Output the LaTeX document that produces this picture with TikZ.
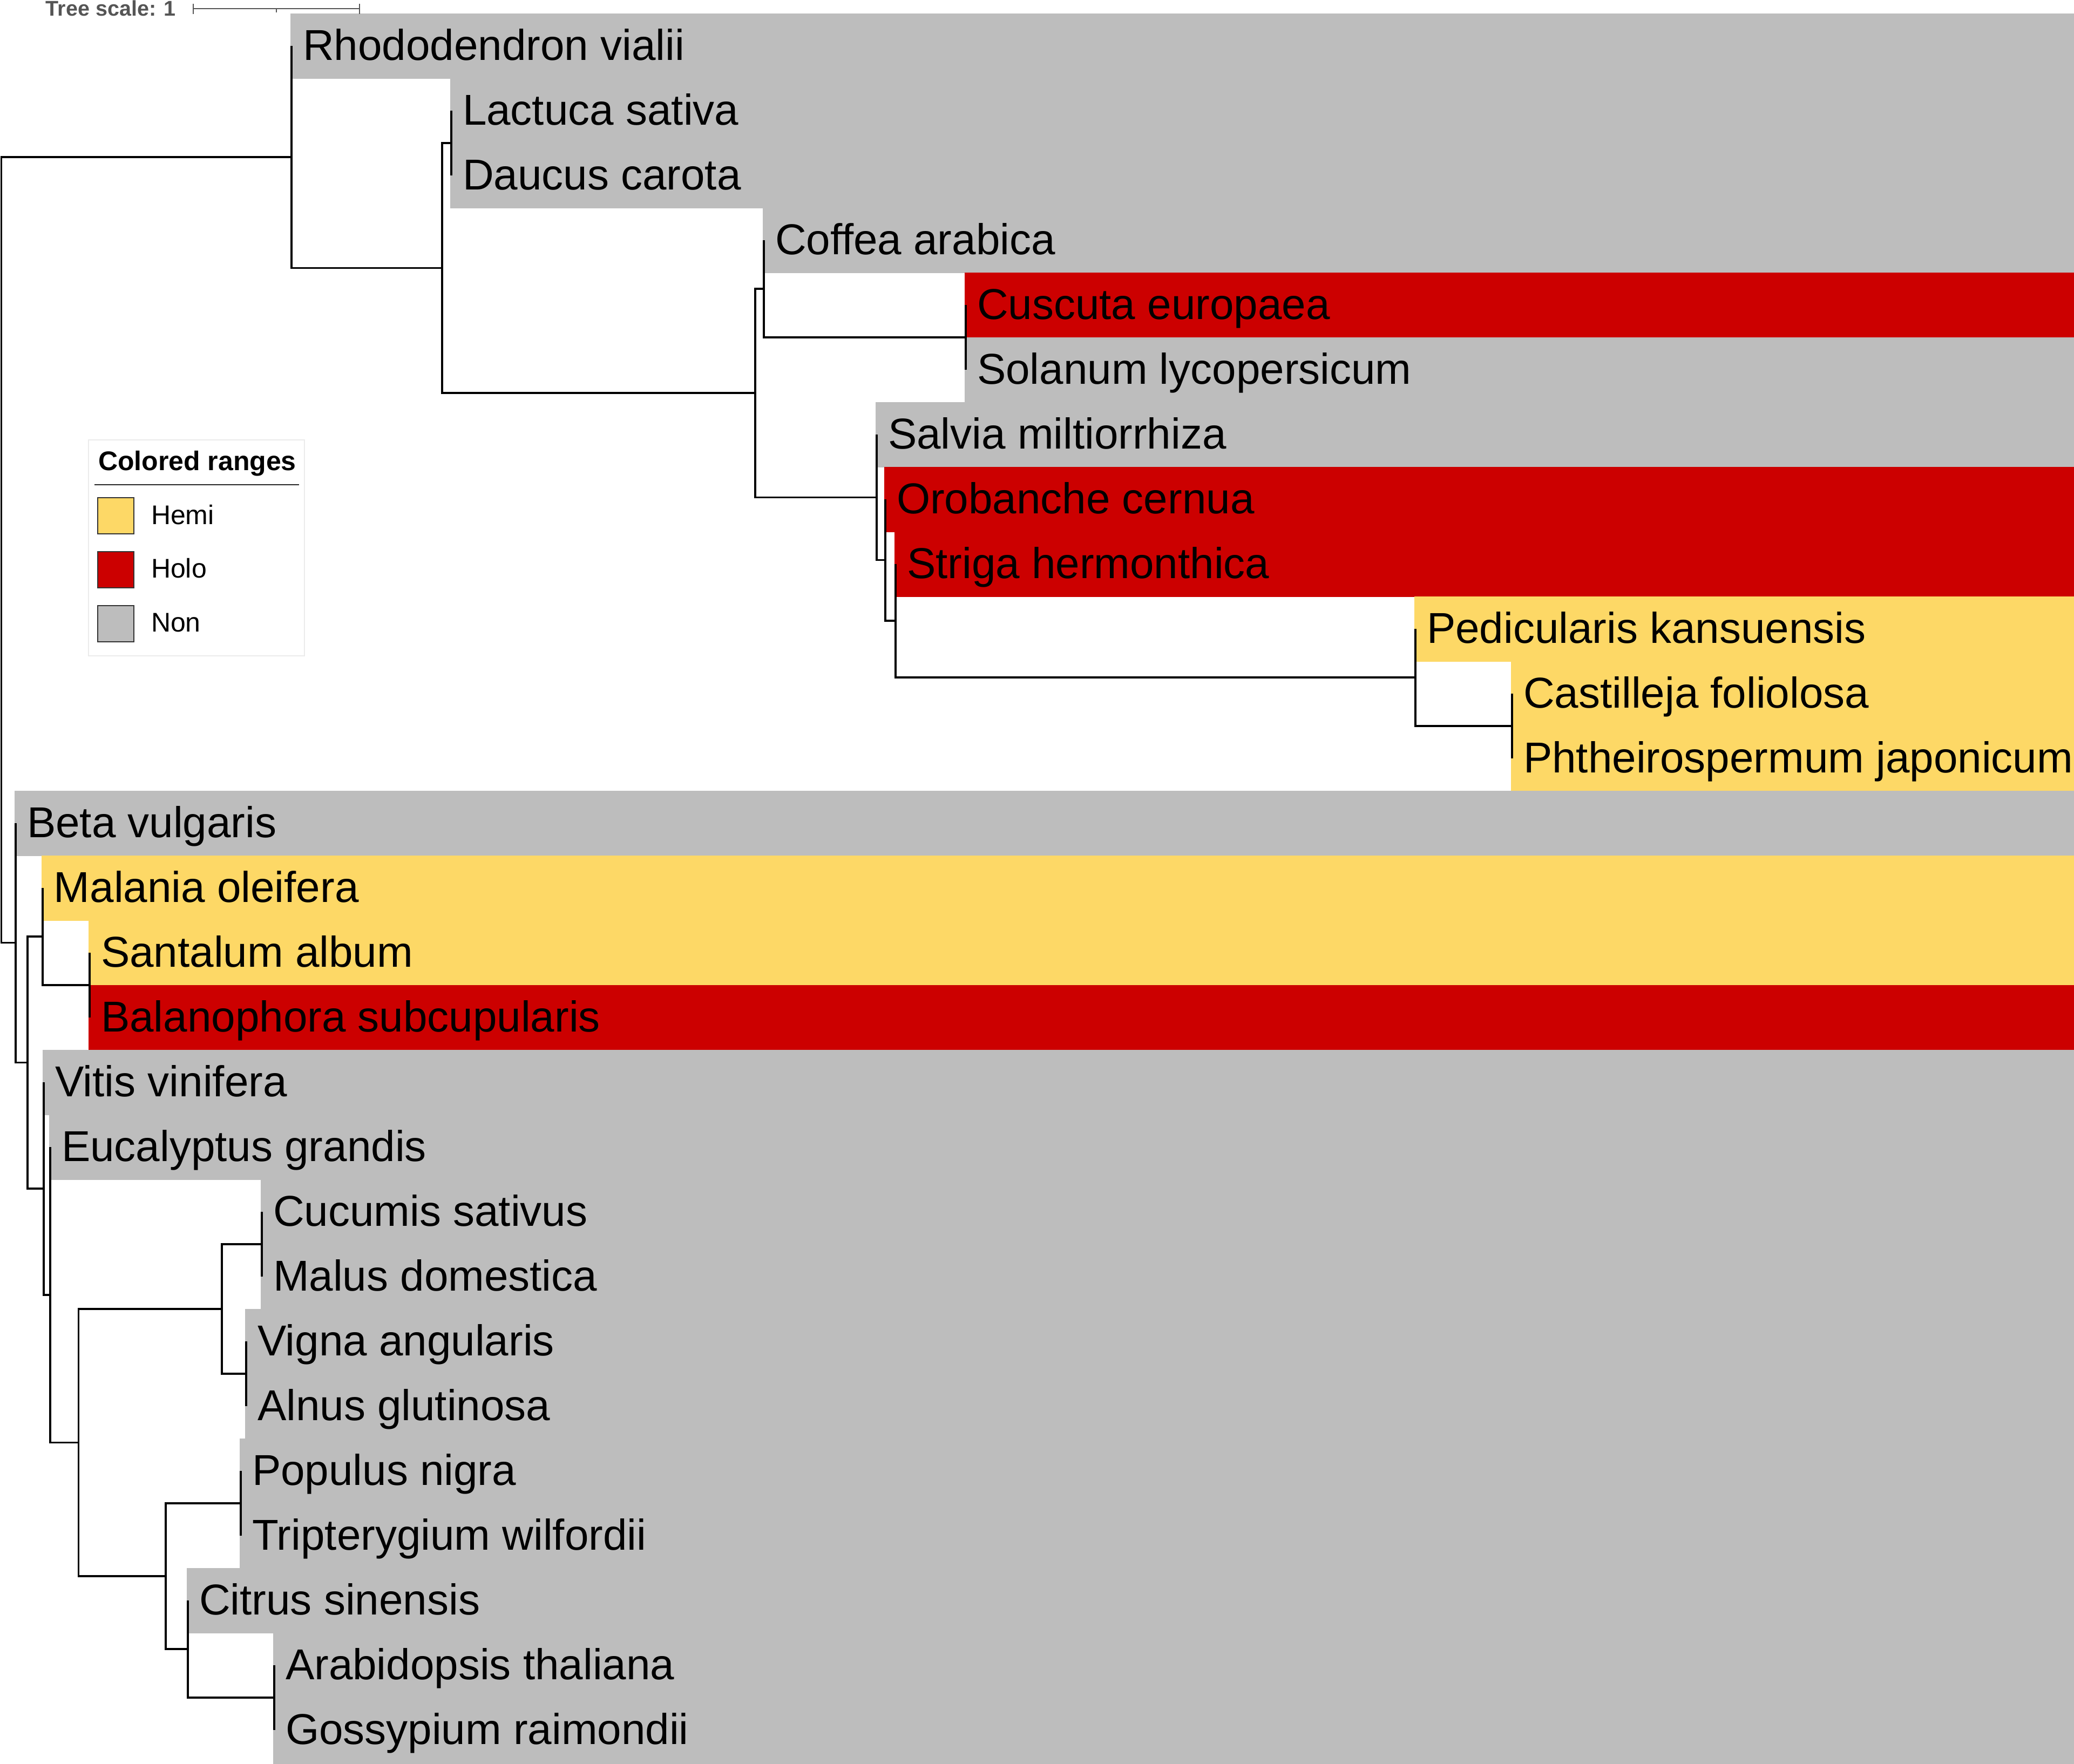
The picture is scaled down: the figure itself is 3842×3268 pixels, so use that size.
\documentclass[tikz,border=0pt]{standalone}
\usepackage{fontspec}
\setmainfont{Liberation Sans}
\definecolor{hemi}{HTML}{FDD866}
\definecolor{holo}{HTML}{CC0000}
\definecolor{non}{HTML}{BDBDBD}
\definecolor{scalegray}{HTML}{555555}
\tikzset{
  branch/.style={line width=0.7pt, black},
  leaflabel/.style={anchor=base west, inner sep=0pt, xshift=0.4pt, font=\fontsize{16}{19}\selectfont},
  legtext/.style={anchor=base west, inner sep=0pt, font=\fontsize{10}{12}\selectfont},
  swatch/.style={draw=black!80, line width=0.3pt},
  scalebar/.style={draw=scalegray, line width=0.5pt}
}
\begin{document}
\begin{tikzpicture}[x=0.2pt, y=-0.2pt]
\useasboundingbox (0,0) rectangle (3842,3268);
% ---------- coloured ranges ----------
\fill[non]  (538,25)   rectangle (3842,145.5);
\fill[non]  (834,145)  rectangle (3842,265.5);
\fill[non]  (834,265)  rectangle (3842,385.5);
\fill[non]  (1413,385) rectangle (3842,505.5);
\fill[holo] (1787,505) rectangle (3842,625.5);
\fill[non]  (1787,625) rectangle (3842,745.5);
\fill[non]  (1622,745) rectangle (3842,865.5);
\fill[holo] (1638,865) rectangle (3842,985.5);
\fill[holo] (1657,985) rectangle (3842,1105.5);
\fill[hemi] (2620,1105) rectangle (3842,1225.5);
\fill[hemi] (2799,1225) rectangle (3842,1345.5);
\fill[hemi] (2799,1345) rectangle (3842,1465.5);
\fill[non]  (27,1465)  rectangle (3842,1585.5);
\fill[hemi] (77,1585)  rectangle (3842,1705.5);
\fill[hemi] (164,1705) rectangle (3842,1825.5);
\fill[holo] (164,1825) rectangle (3842,1945.5);
\fill[non]  (79,1945)  rectangle (3842,2065.5);
\fill[non]  (91,2065)  rectangle (3842,2185.5);
\fill[non]  (483,2185) rectangle (3842,2305.5);
\fill[non]  (483,2305) rectangle (3842,2425.5);
\fill[non]  (454,2425) rectangle (3842,2545.5);
\fill[non]  (454,2545) rectangle (3842,2665.5);
\fill[non]  (444,2665) rectangle (3842,2785.5);
\fill[non]  (444,2785) rectangle (3842,2905.5);
\fill[non]  (346,2905) rectangle (3842,3025.5);
\fill[non]  (506,3025) rectangle (3842,3145.5);
\fill[non]  (506,3145) rectangle (3842,3268);
% ---------- internal nodes ----------
\coordinate (R0) at (2.5,1018.8);
\coordinate (A)  at (540,290.8);
\coordinate (B)  at (819,496.6);
\coordinate (C)  at (836,265);
\coordinate (D)  at (1399,728.1);
\coordinate (E)  at (1415,535);
\coordinate (F)  at (1789,625);
\coordinate (G)  at (1624,921.25);
\coordinate (H)  at (1640,1037.5);
\coordinate (I)  at (1659,1150);
\coordinate (J)  at (2622,1255);
\coordinate (K)  at (2801,1345);
\coordinate (L)  at (29,1746.7);
\coordinate (M)  at (51,1968.4);
\coordinate (N)  at (79,1735);
\coordinate (P)  at (166,1825);
\coordinate (O)  at (81,2201.9);
\coordinate (Q)  at (93,2398.75);
\coordinate (S)  at (145.5,2672.5);
\coordinate (T)  at (411,2425);
\coordinate (V)  at (485,2305);
\coordinate (W)  at (456,2545);
\coordinate (U)  at (307,2920);
\coordinate (X)  at (446,2785);
\coordinate (Y)  at (348,3055);
\coordinate (Z)  at (508,3145);
% ---------- leaves ----------
\coordinate (lRho) at (540,85);
\coordinate (lLac) at (836,205);
\coordinate (lDau) at (836,325);
\coordinate (lCof) at (1415,445);
\coordinate (lCus) at (1789,565);
\coordinate (lSol) at (1789,685);
\coordinate (lSal) at (1624,805);
\coordinate (lOro) at (1640,925);
\coordinate (lStr) at (1659,1045);
\coordinate (lPed) at (2622,1165);
\coordinate (lCas) at (2801,1285);
\coordinate (lPht) at (2801,1405);
\coordinate (lBet) at (29,1525);
\coordinate (lMal) at (79,1645);
\coordinate (lSan) at (166,1765);
\coordinate (lBal) at (166,1885);
\coordinate (lVit) at (81,2005);
\coordinate (lEuc) at (93,2125);
\coordinate (lCuc) at (485,2245);
\coordinate (lMus) at (485,2365);
\coordinate (lVig) at (456,2485);
\coordinate (lAln) at (456,2605);
\coordinate (lPop) at (446,2725);
\coordinate (lTri) at (446,2845);
\coordinate (lCit) at (348,2965);
\coordinate (lAra) at (508,3085);
\coordinate (lGos) at (508,3205);
% ---------- branches ----------
\draw[branch] (A) -| (R0) |- (L);
\draw[branch] (lRho) -| (A) |- (B);
\draw[branch] (C) -| (B) |- (D);
\draw[branch] (lLac) -| (C) |- (lDau);
\draw[branch] (E) -| (D) |- (G);
\draw[branch] (lCof) -| (E) |- (F);
\draw[branch] (lCus) -| (F) |- (lSol);
\draw[branch] (lSal) -| (G) |- (H);
\draw[branch] (lOro) -| (H) |- (I);
\draw[branch] (lStr) -| (I) |- (J);
\draw[branch] (lPed) -| (J) |- (K);
\draw[branch] (lCas) -| (K) |- (lPht);
\draw[branch] (lBet) -| (L) |- (M);
\draw[branch] (N) -| (M) |- (O);
\draw[branch] (lMal) -| (N) |- (P);
\draw[branch] (lSan) -| (P) |- (lBal);
\draw[branch] (lVit) -| (O) |- (Q);
\draw[branch] (lEuc) -| (Q) |- (S);
\draw[branch] (T) -| (S) |- (U);
\draw[branch] (V) -| (T) |- (W);
\draw[branch] (lCuc) -| (V) |- (lMus);
\draw[branch] (lVig) -| (W) |- (lAln);
\draw[branch] (X) -| (U) |- (Y);
\draw[branch] (lPop) -| (X) |- (lTri);
\draw[branch] (lCit) -| (Y) |- (Z);
\draw[branch] (lAra) -| (Z) |- (lGos);
% ---------- labels ----------
\node[leaflabel] (tRho) at (558,111)  {Rhododendron vialii};
\node[leaflabel] (tLac) at (854,231)  {Lactuca sativa};
\node[leaflabel] (tDau) at (854,351)  {Daucus carota};
\node[leaflabel] (tCof) at (1433,471) {Coffea arabica};
\node[leaflabel] (tCus) at (1807,591) {Cuscuta europaea};
\node[leaflabel] (tSol) at (1807,711) {Solanum lycopersicum};
\node[leaflabel] (tSal) at (1642,831) {Salvia miltiorrhiza};
\node[leaflabel] (tOro) at (1658,951) {Orobanche cernua};
\node[leaflabel] (tStr) at (1677,1071) {Striga hermonthica};
\node[leaflabel] (tPed) at (2640,1191) {Pedicularis kansuensis};
\node[leaflabel] (tCas) at (2819,1311) {Castilleja foliolosa};
\node[leaflabel] (tPht) at (2819,1431) {Phtheirospermum japonicum};
\node[leaflabel] (tBet) at (47,1551)  {Beta vulgaris};
\node[leaflabel] (tMal) at (97,1671)  {Malania oleifera};
\node[leaflabel] (tSan) at (184,1791) {Santalum album};
\node[leaflabel] (tBal) at (184,1911) {Balanophora subcupularis};
\node[leaflabel] (tVit) at (99,2031)  {Vitis vinifera};
\node[leaflabel] (tEuc) at (111,2151) {Eucalyptus grandis};
\node[leaflabel] (tCuc) at (503,2271) {Cucumis sativus};
\node[leaflabel] (tMus) at (503,2391) {Malus domestica};
\node[leaflabel] (tVig) at (474,2511) {Vigna angularis};
\node[leaflabel] (tAln) at (474,2631) {Alnus glutinosa};
\node[leaflabel] (tPop) at (464,2751) {Populus nigra};
\node[leaflabel] (tTri) at (464,2871) {Tripterygium wilfordii};
\node[leaflabel] (tCit) at (366,2991) {Citrus sinensis};
\node[leaflabel] (tAra) at (526,3111) {Arabidopsis thaliana};
\node[leaflabel] (tGos) at (526,3231) {Gossypium raimondii};
% ---------- tree scale ----------
\node[anchor=base west, inner sep=0pt, text=scalegray, font=\fontsize{7.9}{9}\selectfont\bfseries] (tscale) at (84,29) {Tree scale: 1};
\coordinate (sb0) at (358,16);
\coordinate (sb1) at (666,16);
\coordinate (sbm) at (512,16);
\draw[scalebar] (sb0) -- (sb1);
\draw[scalebar] ([yshift=-9.5*0.2pt]sb0) -- ([yshift=9.5*0.2pt]sb0);
\draw[scalebar] ([yshift=-9.5*0.2pt]sb1) -- ([yshift=9.5*0.2pt]sb1);
\draw[scalebar] (sbm) -- ([yshift=-7*0.2pt]sbm);
% ---------- legend ----------
\draw[fill=white, draw=black!8, line width=0.25pt] (164,815) rectangle (564,1215);
\node[legtext, font=\fontsize{10}{12}\selectfont\bfseries] (lgtitle) at (181,871) {Colored ranges};
\coordinate (lgl0) at (175,898);
\coordinate (lgl1) at (554,898);
\draw[black!85, line width=0.3pt] (lgl0) -- (lgl1);
\draw[swatch, fill=hemi] (181,922) rectangle (248,989);
\draw[swatch, fill=holo] (181,1022) rectangle (248,1089);
\draw[swatch, fill=non]  (181,1122) rectangle (248,1189);
\node[legtext] (lgHemi) at (279,971)  {Hemi};
\node[legtext] (lgHolo) at (279,1070) {Holo};
\node[legtext] (lgNon)  at (279,1170) {Non};
\end{tikzpicture}
\end{document}
